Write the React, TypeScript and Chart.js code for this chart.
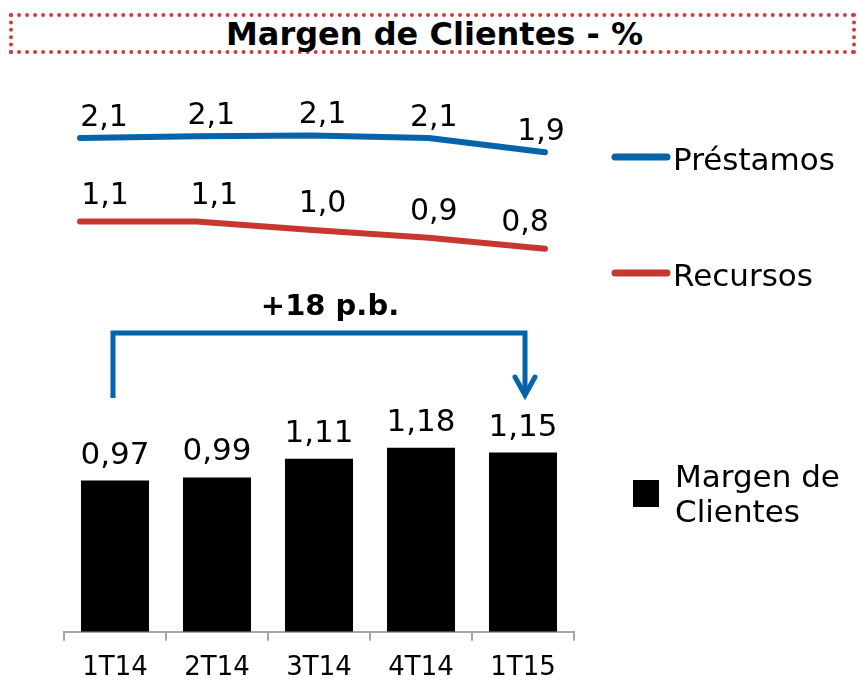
import React, { useEffect, useRef } from "react";
import { Chart, registerables } from "chart.js";

Chart.register(...registerables);

// ---------- data ----------
const categories = ["1T14", "2T14", "3T14", "4T14", "1T15"];
const prestamos = [2.11, 2.13, 2.14, 2.11, 1.94];
const recursos = [1.12, 1.12, 1.02, 0.93, 0.8];
const margen = [0.97, 0.99, 1.11, 1.18, 1.15];
const title = "Margen de Clientes - %";
const deltaLabel = "+18 p.b.";
const seriesNames = ["Préstamos", "Recursos"];
const barLegend = ["Margen de", "Clientes"];

// ---------- styles ----------
const FONT = "'DejaVu Sans', Verdana, sans-serif";
const BLUE = "#0563a9";
const RED = "#c8372f";
const W = 857;
const H = 680;

const fmt1 = (v: number) => v.toFixed(1).replace(".", ",");
const fmt2 = (v: number) => v.toFixed(2).replace(".", ",");

const lineLabelsPlugin = {
  id: "lineLabels",
  afterDatasetsDraw(chart: any) {
    const ctx = chart.ctx;
    ctx.save();
    ctx.font = `30px ${FONT}`;
    ctx.fillStyle = "#000";
    ctx.textAlign = "center";
    ctx.textBaseline = "alphabetic";
    chart.data.datasets.forEach((ds: any, di: number) => {
      const meta = chart.getDatasetMeta(di);
      meta.data.forEach((pt: any, i: number) => {
        ctx.fillText(fmt1(ds.data[i]), pt.x + ds.labelDx[i], pt.y - ds.labelDy);
      });
    });
    // legend
    chart.data.datasets.forEach((ds: any) => {
      const y = ds.legendY;
      ctx.strokeStyle = ds.borderColor;
      ctx.lineWidth = 7;
      ctx.lineCap = "round";
      ctx.beginPath();
      ctx.moveTo(615, y);
      ctx.lineTo(667, y);
      ctx.stroke();
      ctx.font = `31px ${FONT}`;
      ctx.textAlign = "left";
      ctx.fillStyle = "#000";
      ctx.fillText(ds.label, 673, y + 13);
    });
    ctx.restore();
  },
};

const barExtrasPlugin = {
  id: "barExtras",
  afterDatasetsDraw(chart: any) {
    const ctx = chart.ctx;
    const ds = chart.data.datasets[0];
    const meta = chart.getDatasetMeta(0);
    ctx.save();
    // value labels
    ctx.font = `31px ${FONT}`;
    ctx.fillStyle = "#000";
    ctx.textAlign = "center";
    ctx.textBaseline = "alphabetic";
    meta.data.forEach((bar: any, i: number) => {
      ctx.fillText(fmt2(ds.data[i]), bar.x, bar.y - 17);
    });
    // bracket
    const xs = chart.scales.x;
    const x0 = xs.getPixelForValue(0) - 2;
    const x1 = xs.getPixelForValue(categories.length - 1) + 2;
    const top = chart.chartArea.top + 13;
    const bottomL = chart.chartArea.top + 78;
    const tip = chart.chartArea.top + 77;
    ctx.strokeStyle = BLUE;
    ctx.lineWidth = 5;
    ctx.lineCap = "butt";
    ctx.lineJoin = "miter";
    ctx.beginPath();
    ctx.moveTo(x0, bottomL);
    ctx.lineTo(x0, top);
    ctx.lineTo(x1, top);
    ctx.lineTo(x1, tip - 2);
    ctx.stroke();
    ctx.beginPath();
    ctx.lineCap = "round";
    ctx.moveTo(x1 - 10, tip - 20);
    ctx.lineTo(x1, tip - 2);
    ctx.lineTo(x1 + 10, tip - 20);
    ctx.stroke();
    ctx.font = `bold 29px ${FONT}`;
    ctx.fillStyle = "#000";
    ctx.textAlign = "center";
    ctx.fillText(deltaLabel, (x0 + x1) / 2 + 11, top - 18);
    // legend
    ctx.fillStyle = ds.backgroundColor;
    ctx.fillRect(633, 480, 26, 27);
    ctx.fillStyle = "#000";
    ctx.textAlign = "left";
    ctx.font = `31px ${FONT}`;
    ctx.fillText(barLegend[0], 675, 487);
    ctx.fillText(barLegend[1], 675, 522);
    ctx.restore();
  },
};

export default function App() {
  const lineRef = useRef<HTMLCanvasElement>(null);
  const barRef = useRef<HTMLCanvasElement>(null);

  useEffect(() => {
    const lineChart = new Chart(lineRef.current as HTMLCanvasElement, {
      type: "line",
      data: {
        labels: categories,
        datasets: [
          {
            label: seriesNames[0],
            data: prestamos,
            borderColor: BLUE,
            backgroundColor: BLUE,
            borderWidth: 6,
            borderCapStyle: "round",
            borderJoinStyle: "round",
            pointRadius: 0,
            tension: 0,
            clip: false,
            labelDx: [24, 15, 10, 5, -4],
            labelDy: 12,
            legendY: 157,
          } as any,
          {
            label: seriesNames[1],
            data: recursos,
            borderColor: RED,
            backgroundColor: RED,
            borderWidth: 6,
            borderCapStyle: "round",
            borderJoinStyle: "round",
            pointRadius: 0,
            tension: 0,
            clip: false,
            labelDx: [25, 18, 10, 5, -20],
            labelDy: 18,
            legendY: 273,
          } as any,
        ],
      },
      options: {
        animation: false,
        responsive: false,
        maintainAspectRatio: false,
        events: [],
        layout: { padding: { left: 80, right: W - 545, top: 105, bottom: 406 } },
        plugins: { legend: { display: false }, tooltip: { enabled: false } },
        scales: {
          x: { display: false, offset: false },
          y: { display: false, min: 0.5, max: 2.5 },
        },
      },
      plugins: [lineLabelsPlugin],
    });

    const barChart = new Chart(barRef.current as HTMLCanvasElement, {
      type: "bar",
      data: {
        labels: categories,
        datasets: [
          {
            label: barLegend.join(" "),
            data: margen,
            backgroundColor: "#000000",
            borderWidth: 0,
            barPercentage: 0.667,
            categoryPercentage: 1,
          },
        ],
      },
      options: {
        animation: false,
        responsive: false,
        maintainAspectRatio: false,
        events: [],
        layout: { padding: { left: 64, right: W - 574, top: 320, bottom: -16 } },
        plugins: { legend: { display: false }, tooltip: { enabled: false } },
        scales: {
          x: {
            offset: true,
            grid: {
              display: true,
              offset: true,
              drawOnChartArea: false,
              drawTicks: true,
              tickLength: 9,
              color: "#a6a6a6",
              lineWidth: 2,
            },
            border: { display: true, color: "#a6a6a6", width: 2 },
            ticks: { color: "#000", font: { family: FONT, size: 26 }, padding: 12, maxRotation: 0 },
          },
          y: { display: false, min: 0, max: 2 },
        },
      },
      plugins: [barExtrasPlugin],
    });

    return () => {
      lineChart.destroy();
      barChart.destroy();
    };
  }, []);

  return (
    <div style={{ position: "fixed", left: 0, top: 0, width: W, height: H, background: "#fff" }}>
      <div
        style={{
          position: "absolute",
          left: 9,
          top: 13,
          width: 847,
          height: 41,
          boxSizing: "border-box",
          border: "4px dotted #d23b3b",
          textAlign: "center",
          fontFamily: FONT,
          fontWeight: "bold",
          fontSize: 32,
          lineHeight: "33px",
          paddingTop: 1,
          color: "#000",
          paddingLeft: 4,
        }}
      >
        {title}
      </div>
      <canvas ref={barRef} width={W} height={H} style={{ position: "absolute", left: 0, top: 0, display: "block" }} />
      <canvas ref={lineRef} width={W} height={H} style={{ position: "absolute", left: 0, top: 0, display: "block" }} />
    </div>
  );
}
